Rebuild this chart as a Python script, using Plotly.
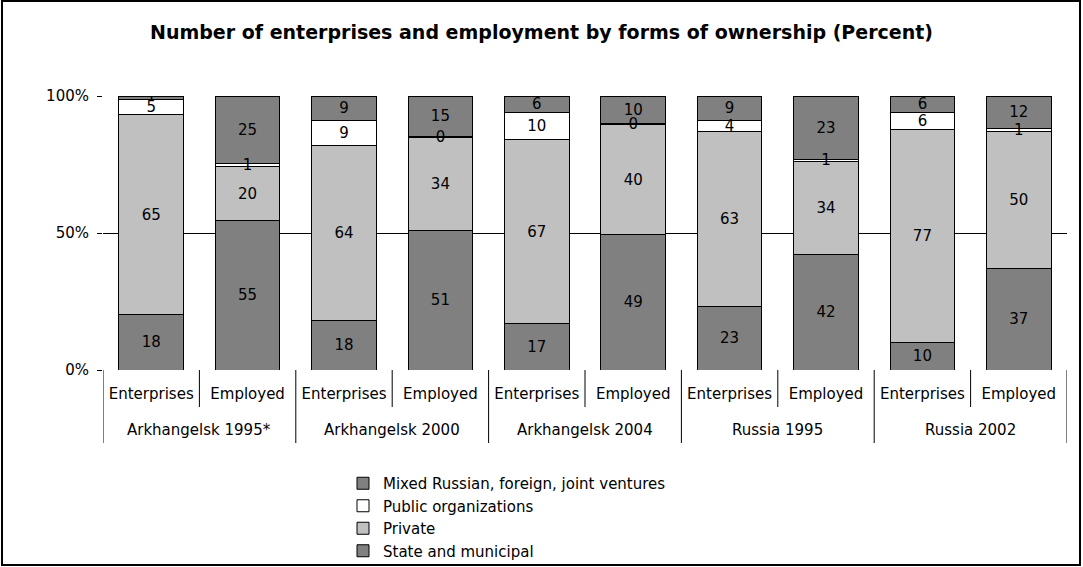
import plotly.graph_objects as go

# ---- data ----
groups = ["Arkhangelsk 1995*", "Arkhangelsk 2000", "Arkhangelsk 2004", "Russia 1995", "Russia 2002"]
subs = ["Enterprises", "Employed"]

state = [18, 55, 18, 51, 17, 49, 23, 42, 10, 37]
private = [65, 20, 64, 34, 67, 40, 63, 34, 77, 50]
public = [5, 1, 9, 0.3, 10, 0.3, 4, 1, 6, 1]
mixed = [1, 25, 9, 15, 6, 10, 9, 23, 6, 12]

series_names = ["State and municipal", "Private", "Public organizations",
                "Mixed Russian, foreign, joint ventures"]
series_values = [state, private, public, mixed]
series_colors = ["#808080", "#C0C0C0", "#FFFFFF", "#808080"]
legend_ranks = [4, 3, 2, 1]
layer_order = [0, 0, 1, 0]

y_ticks = [0, 50, 100]
y_ticktext = ["0%", "50%", "100%"]

title_text = "Number of enterprises and employment by forms of ownership (Percent)"

# ---- build ----
keys = [f"{g}|{s}" for g in groups for s in subs]
sub_labels = [s for g in groups for s in subs]

W, H = 1083, 567
FONT = "DejaVu Sans, Liberation Sans, Arial, sans-serif"
FS = 15

def py(px):
    return 1 - px / H

fig = go.Figure()
for name, vals, col, rk, z in zip(series_names, series_values, series_colors,
                                   legend_ranks, layer_order):
    fig.add_trace(go.Bar(
        x=keys,
        y=vals,
        name=name,
        legendgroup=name,
        legendrank=rk,
        zorder=z,
        marker=dict(color=col, line=dict(color="black", width=1)),
        text=[f"{v:.0f}" for v in vals],
        textposition="inside",
        insidetextanchor="middle",
        constraintext="none",
        textangle=0,
        textfont=dict(family=FONT, size=FS, color="black"),
        hoverinfo="skip",
    ))

# category dividers below the axis and group labels
shapes = []
n = len(keys)
y_axis_px = 370
for b in range(n + 1):
    is_group = (b % len(subs) == 0)
    shapes.append(dict(type="line", xref="x", yref="paper",
                       x0=b - 0.5, x1=b - 0.5,
                       y0=py(y_axis_px), y1=py(443 if is_group else 407),
                       line=dict(color="black", width=1)))
shapes.append(dict(type="rect", xref="paper", yref="paper",
                   x0=2 / W, x1=1080 / W, y0=py(565), y1=py(1),
                   line=dict(color="black", width=2), fillcolor="rgba(0,0,0,0)"))

annotations = []
for gi, g in enumerate(groups):
    annotations.append(dict(text=g, xref="x", yref="paper",
                            x=gi * len(subs) + (len(subs) - 1) / 2, y=py(430),
                            xanchor="center", yanchor="middle", showarrow=False,
                            font=dict(family=FONT, size=FS, color="black")))

fig.update_layout(
    width=W, height=H,
    margin=dict(l=0, r=0, t=0, b=0),
    paper_bgcolor="white",
    plot_bgcolor="white",
    barmode="stack",
    barnorm="percent",
    bargap=0.33,
    font=dict(family=FONT, size=FS, color="black"),
    title=dict(text="<b>" + title_text + "</b>", x=0.5, xanchor="center",
               y=py(32), yanchor="middle",
               font=dict(family=FONT, size=19, color="black")),
    showlegend=True,
    legend=dict(x=343 / W, y=py(467), xanchor="left", yanchor="top",
                traceorder="grouped", tracegroupgap=0,
                font=dict(family=FONT, size=FS, color="black"),
                bgcolor="rgba(0,0,0,0)"),
    xaxis=dict(
        domain=[103 / W, 1067 / W],
        type="category",
        categoryorder="array", categoryarray=keys,
        tickvals=keys, ticktext=sub_labels,
        showline=True, linecolor="black", linewidth=1,
        ticks="", ticklabelstandoff=10,
        tickfont=dict(family=FONT, size=FS, color="black"),
        automargin=False,
        showgrid=False,
        range=[-0.5, n - 0.5],
    ),
    yaxis=dict(
        domain=[py(370), py(96)],
        range=[0, 100],
        tickvals=y_ticks, ticktext=y_ticktext,
        ticks="outside", ticklen=5, tickcolor="black",
        ticklabelstandoff=5,
        showline=True, linecolor="black", linewidth=1, mirror=True,
        showgrid=True, gridcolor="black", gridwidth=1,
        zeroline=False,
        tickfont=dict(family=FONT, size=FS, color="black"),
        automargin=False,
    ),
    shapes=shapes,
    annotations=annotations,
)

post = ("var d=document.getElementById('{plot_id}');"
        "document.body.appendChild(d);"
        "Array.from(document.body.children).forEach(function(c){if(c!==d){c.style.display='none';}});"
        "[document.documentElement, document.body].forEach(function(e){"
        "e.style.margin='0';e.style.padding='0';e.style.overflow='hidden';"
        "e.style.height='567px';});"
        "d.style.position='fixed';d.style.left='0px';d.style.top='0px';")

fig.write_html("out.html", config={"displayModeBar": False}, post_script=post)
